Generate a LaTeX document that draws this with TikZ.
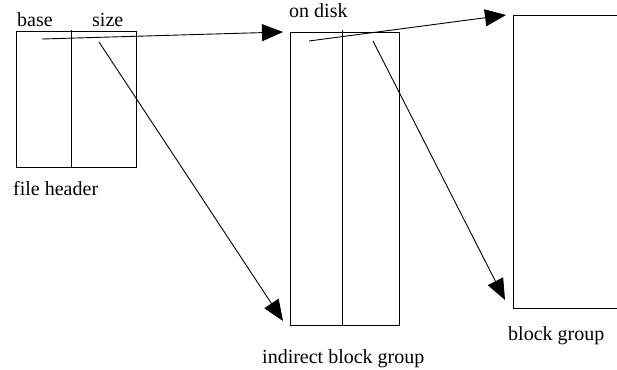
\documentclass[tikz,border=0pt]{standalone}
\usepackage{fontspec}
\setmainfont{Liberation Serif}
\usetikzlibrary{arrows.meta}
\begin{document}
\begin{tikzpicture}[x=1pt,y=-1pt,
  box/.style={draw,line width=0.9pt,inner sep=0pt,anchor=north west},
  lbl/.style={anchor=base west,inner sep=0pt,font=\fontsize{20}{24}\selectfont},
  arr/.style={line width=0.9pt,-{Triangle[length=21pt,width=17pt]}}]
\useasboundingbox (0,0) rectangle (617,369);
% boxes
\node[box,minimum width=120pt,minimum height=136pt] (fh) at (16,31) {};
\node[box,minimum width=109pt,minimum height=293pt] (ind) at (290,32) {};
\node[box,minimum width=130pt,minimum height=293pt] (blk) at (513,15) {};
% dividers
\coordinate (fht) at (71,30);
\coordinate (fhb) at (71,167);
\draw[line width=0.9pt] (fht) -- (fhb);
\coordinate (indt) at (342,30);
\coordinate (indb) at (342,325);
\draw[line width=0.9pt] (indt) -- (indb);
% labels
\node[lbl] (lbase) at (17,27) {base};
\node[lbl] (lsize) at (92,27) {size};
\node[lbl] (ldisk) at (289,18) {on disk};
\node[lbl] (lfh) at (13,195) {file header};
\node[lbl] (lblk) at (508,340) {block group};
\node[lbl] (lind) at (262,363) {indirect block group};
% arrows
\coordinate (s1) at (42,39);
\coordinate (s2) at (99,42);
\coordinate (s3) at (309,41);
\coordinate (s4) at (373,41);
\coordinate (t1) at (283,32);
\coordinate (t2) at (283,321);
\coordinate (t3) at (506,15);
\coordinate (t4) at (505,300);
\draw[arr] (s1) -- (t1);
\draw[arr] (s2) -- (t2);
\draw[arr] (s3) -- (t3);
\draw[arr] (s4) -- (t4);
\end{tikzpicture}
\end{document}
